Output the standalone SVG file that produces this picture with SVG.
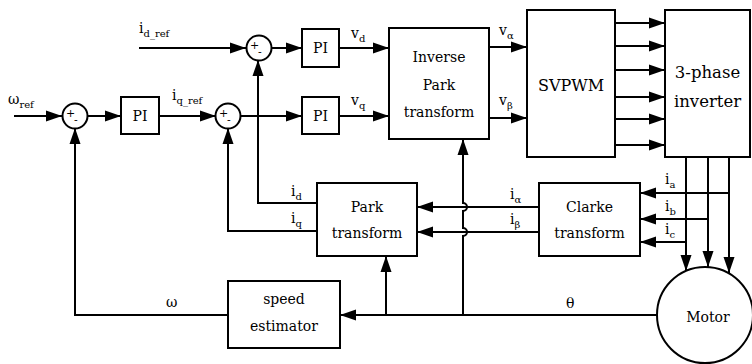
<svg xmlns="http://www.w3.org/2000/svg" width="752" height="364" viewBox="0 0 752 364">
<defs>
<marker id="ah" markerUnits="userSpaceOnUse" markerWidth="17" markerHeight="12" refX="16" refY="6" orient="auto">
<path d="M0,0.5 L16,6 L0,11.5 Z" fill="#000"/>
</marker>
</defs>
<style>
.b{fill:#fff;stroke:#000;stroke-width:2}
.c{fill:none;stroke:#000;stroke-width:2}
.a{marker-end:url(#ah)}
text{font-family:"DejaVu Serif","Liberation Serif",serif;fill:#000}
.t{font-size:14px;text-anchor:middle}
.l{font-size:14px}
.s{font-size:10px}
.p{font-size:11px}
</style>
<rect width="752" height="364" fill="#fff"/>
<g id="connectors">
<path class="c a" d="M139,48 H246"/>
<path class="c a" d="M272,48 H302"/>
<path class="c a" d="M339,48 H389"/>
<path class="c a" d="M14,116 H62"/>
<path class="c a" d="M87,116 H121"/>
<path class="c a" d="M159,116 H216"/>
<path class="c a" d="M241,116 H302"/>
<path class="c a" d="M339,116 H389"/>
<path class="c a" d="M489,47 H527"/>
<path class="c a" d="M489,118 H527"/>
<path class="c a" d="M615,23 H665"/>
<path class="c a" d="M615,46 H665"/>
<path class="c a" d="M615,70 H665"/>
<path class="c a" d="M615,97 H665"/>
<path class="c a" d="M615,119 H665"/>
<path class="c a" d="M615,145 H665"/>
<path class="c a" d="M317,203 H258 V60"/>
<path class="c a" d="M317,231 H228 V128"/>
<path class="c a" d="M228,315 H75 V128"/>
<path class="c a" d="M657,315 H340"/>
<path class="c a" d="M386,315 V256"/>
<path class="c a" d="M463,315 V236 A4,4 0 0 0 463,228 V211 A4,4 0 0 0 463,203 V139"/>
<path class="c a" d="M539,207 H417"/>
<path class="c a" d="M539,232 H417"/>
<path class="c a" d="M686,157 V271"/>
<path class="c a" d="M708,157 V267"/>
<path class="c a" d="M729,157 V273"/>
<path class="c a" d="M729,193 H640"/>
<path class="c a" d="M708,219 H640"/>
<path class="c a" d="M686,242 H640"/>
</g>
<g id="sum_d"><circle class="b" cx="259" cy="48" r="12.5"/><text class="p" x="250" y="49">+</text><text class="p" x="258" y="56">-</text></g>
<g id="sum_w"><circle class="b" cx="75" cy="116" r="12.5"/><text class="p" x="66" y="117">+</text><text class="p" x="74" y="124">-</text></g>
<g id="sum_q"><circle class="b" cx="228" cy="116" r="12.5"/><text class="p" x="219" y="117">+</text><text class="p" x="227" y="124">-</text></g>
<g id="pi_w"><rect class="b" x="121" y="97" width="38" height="37"/><text class="t" x="140" y="121">PI</text></g>
<g id="pi_d"><rect class="b" x="302" y="29" width="37" height="38"/><text class="t" x="320.5" y="53">PI</text></g>
<g id="pi_q"><rect class="b" x="302" y="97" width="37" height="37"/><text class="t" x="320.5" y="121">PI</text></g>
<g id="inv_park"><rect class="b" x="389" y="28" width="100" height="111"/><text class="t" x="439" y="62">Inverse</text><text class="t" x="439" y="90">Park</text><text class="t" x="439" y="117">transform</text></g>
<g id="svpwm"><rect class="b" x="527" y="10" width="88" height="147"/><text class="t" x="571" y="91" style="font-size:16px">SVPWM</text></g>
<g id="inverter"><rect class="b" x="665" y="10" width="85" height="147"/><text class="t" x="707.5" y="78" style="font-size:16.5px">3-phase</text><text class="t" x="707.5" y="107" style="font-size:16.5px">inverter</text></g>
<g id="park"><rect class="b" x="317" y="183" width="100" height="73"/><text class="t" x="367" y="212">Park</text><text class="t" x="367" y="238">transform</text></g>
<g id="clarke"><rect class="b" x="539" y="183" width="101" height="73"/><text class="t" x="589.5" y="212">Clarke</text><text class="t" x="589.5" y="238">transform</text></g>
<g id="speed"><rect class="b" x="228" y="281" width="112" height="67"/><text class="t" x="284" y="304">speed</text><text class="t" x="284" y="331">estimator</text></g>
<g id="motor"><circle class="b" cx="705" cy="315" r="48"/><text class="t" x="708" y="322">Motor</text></g>
<g id="labels">
<text class="l" x="139" y="33">i<tspan class="s" dy="4">d_ref</tspan></text>
<text class="l" x="8" y="104">ω<tspan class="s" dy="4">ref</tspan></text>
<text class="l" x="172" y="100">i<tspan class="s" dy="4">q_ref</tspan></text>
<text class="l" x="351" y="38">v<tspan class="s" dy="4">d</tspan></text>
<text class="l" x="351" y="105">v<tspan class="s" dy="4">q</tspan></text>
<text class="l" x="499" y="35">v<tspan class="s" dy="4">α</tspan></text>
<text class="l" x="499" y="105">v<tspan class="s" dy="4">β</tspan></text>
<text class="l" x="291" y="196">i<tspan class="s" dy="4">d</tspan></text>
<text class="l" x="291" y="223">i<tspan class="s" dy="4">q</tspan></text>
<text class="l" x="510" y="199">i<tspan class="s" dy="4">α</tspan></text>
<text class="l" x="510" y="224">i<tspan class="s" dy="4">β</tspan></text>
<text class="l" x="665" y="184">i<tspan class="s" dy="4">a</tspan></text>
<text class="l" x="665" y="211">i<tspan class="s" dy="4">b</tspan></text>
<text class="l" x="665" y="234">i<tspan class="s" dy="4">c</tspan></text>
<text class="l" x="166" y="307">ω</text>
<text class="l" x="566" y="308">θ</text>
</g>
</svg>
